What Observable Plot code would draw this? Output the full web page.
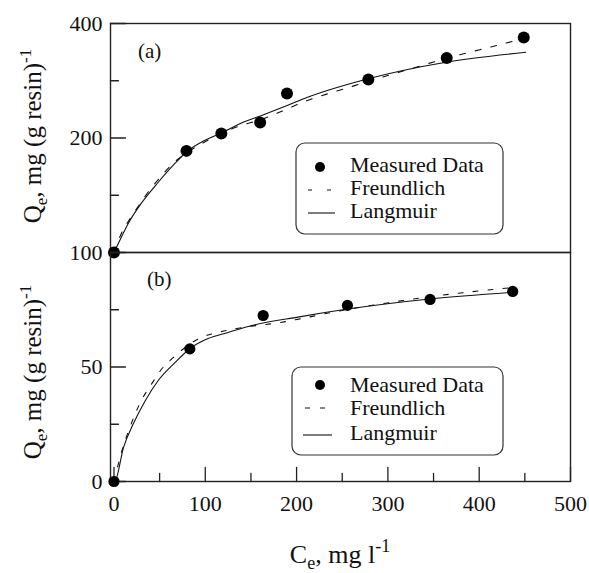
<!DOCTYPE html>
<html><head><meta charset="utf-8">
<script src="https://cdn.jsdelivr.net/npm/d3@7"></script>
<script src="https://cdn.jsdelivr.net/npm/@observablehq/plot@0.6"></script>
<style>
body{margin:0;background:#fff;}
#chart{position:relative;width:589px;height:573px;overflow:hidden;}
#chart svg{position:absolute;left:0;top:0;overflow:visible;}
#chart svg text, #chart svg tspan{font-family:"Liberation Serif","DejaVu Serif",serif !important;}
</style></head><body><div id="chart"></div>
<script>
// ---- Panel (a) data ----
const ceA = [0, 79.4, 117.6, 160.1, 189.5, 278.6, 364.4, 448.8];
const qeA = [100, 185, 205.5, 219.7, 261.8, 285, 324.8, 367.5];
const langA_x = [0, 4.9, 15.8, 30, 48.5, 67, 79, 99.8, 117, 139, 165.2, 190.3, 212, 276.4, 363.7, 451];
const langA_y = [100, 105.8, 119.4, 134.8, 153, 171.7, 183.5, 197.4, 205.9, 218.7, 231, 244, 256, 285.5, 316.5, 336];
const freA_x = [0, 8.2, 18, 28.9, 39.8, 51.8, 64.9, 79.1, 99.8, 128.1, 165.2, 214.3, 236.1, 254.6, 272.1, 323.3, 364.7, 413.8, 450.9];
const freA_y = [100, 112.4, 123, 134.8, 146.7, 158.7, 171.7, 182.4, 195.6, 210.9, 225.5, 252.2, 262.3, 270.4, 278.7, 303.3, 324.2, 347.6, 366];

// ---- Panel (b) data ----
const ceB = [0, 83.1, 163.4, 255.7, 346.2, 436.7];
const qeB = [0, 57.9, 72.5, 76.9, 79.5, 83];
const langB_x = [0, 1.6, 10.4, 21.3, 34.4, 48.5, 67, 83.4, 103, 125, 147, 203, 256, 346, 437];
const langB_y = [0, 0.4, 14.8, 25.3, 35.4, 44.1, 52, 58.1, 62.4, 65.1, 67.7, 71.9, 75.3, 79.7, 82.6];
const freB_x = [0, 10.4, 16.9, 23.4, 31.1, 40.9, 51.8, 64.9, 95.4, 114, 134, 181.6, 250, 356, 437];
const freB_y = [0, 15.7, 23.1, 29.7, 36.2, 42.4, 48.9, 54.1, 62.9, 65.1, 66.8, 69.4, 74.7, 81.2, 84.7];

// ---- Ticks / labels ----
const xMajor = [0, 100, 200, 300, 400, 500];
const xMinor = [50, 150, 250, 350, 450];
const yMajorA = [200, 400];
const yMinorA = [141.42, 282.84];
const yLabelsA = [200, 400];
const yMajorB = [0, 50, 100];
const yMinorB = [25, 75];
const yLabelsB = [0, 50, 100];
const legendItems = ["Measured Data", "Freundlich", "Langmuir"];
const panelTags = ["(a)", "(b)"];

const toPts = (xs, ys) => xs.map((x, i) => ({x, y: ys[i]}));
const W = 589, H = 573;
const FONT = "Liberation Serif, DejaVu Serif, serif";
const INK = "#111";
const xDomain = [-3.8, 500];
const tickShape = {draw(ctx, l) { ctx.moveTo(0, 0); ctx.lineTo(0, -l); }};
const common = {
  width: W, height: H, marginLeft: 110, marginRight: 19,
  style: {background: "transparent", fontFamily: FONT, fontSize: "22px", color: INK}
};
const curveStyle = {stroke: INK, strokeWidth: 1.1};
const tickStyle = {anchor: "start", shape: tickShape, stroke: "#222", strokeWidth: 1.3};

const plotA = Plot.plot({
  ...common, marginTop: 23, marginBottom: H - 252,
  x: {domain: xDomain, axis: null},
  y: {type: "log", domain: [100, 400], axis: null},
  marks: [
    Plot.frame({stroke: "#222", strokeWidth: 1.4}),
    Plot.vector(yMajorA, {x: xDomain[0], y: d => d, rotate: 90, length: 15, ...tickStyle}),
    Plot.vector(yMinorA, {x: xDomain[0], y: d => d, rotate: 90, length: 8, ...tickStyle}),
    Plot.text(yLabelsA, {x: xDomain[0], y: d => d, text: d => String(d), textAnchor: "end", dx: -8, fontSize: 22, fontFamily: FONT, fill: INK}),
    Plot.line(toPts(langA_x, langA_y), {x: "x", y: "y", ...curveStyle, curve: "monotone-x"}),
    Plot.line(toPts(freA_x, freA_y), {x: "x", y: "y", ...curveStyle, strokeDasharray: "6,10", curve: "monotone-x"}),
    Plot.dot(toPts(ceA, qeA), {x: "x", y: "y", r: 6, fill: "#000", stroke: "none"})
  ]
});

const plotB = Plot.plot({
  ...common, marginTop: 252, marginBottom: H - 481,
  x: {domain: xDomain, axis: null},
  y: {domain: [0, 100], axis: null},
  marks: [
    Plot.frame({stroke: "#222", strokeWidth: 1.4}),
    Plot.vector(yMajorB, {x: xDomain[0], y: d => d, rotate: 90, length: 15, ...tickStyle}),
    Plot.vector(yMinorB, {x: xDomain[0], y: d => d, rotate: 90, length: 8, ...tickStyle}),
    Plot.vector(xMajor, {x: d => d, y: 0, rotate: 0, length: 14, ...tickStyle}),
    Plot.vector(xMinor, {x: d => d, y: 0, rotate: 0, length: 8, ...tickStyle}),
    Plot.text(yLabelsB, {x: xDomain[0], y: d => d, text: d => String(d), textAnchor: "end", dx: -8, fontSize: 22, fontFamily: FONT, fill: INK}),
    Plot.text(xMajor, {x: d => d, y: 0, text: d => String(d), dy: 22, fontSize: 22, fontFamily: FONT, fill: INK}),
    Plot.line(toPts(langB_x, langB_y), {x: "x", y: "y", ...curveStyle, curve: "monotone-x"}),
    Plot.line(toPts(freB_x, freB_y), {x: "x", y: "y", ...curveStyle, strokeDasharray: "5,10", curve: "monotone-x"}),
    Plot.dot(toPts(ceB, qeB), {x: "x", y: "y", r: 5.6, fill: "#000", stroke: "none"})
  ]
});

const chart = document.getElementById("chart");
chart.appendChild(plotA);
chart.appendChild(plotB);

// ---- Annotations (titles, panel tags, legends) ----
const svg = d3.select(plotB);
const g = svg.append("g").attr("font-family", FONT).attr("fill", INK).attr("text-anchor", "start");

function yTitle(cx, cy) {
  const t = g.append("text").attr("transform", `translate(${cx},${cy}) rotate(-90)`)
    .attr("text-anchor", "middle").attr("font-size", 25);
  t.append("tspan").text("Q");
  t.append("tspan").attr("font-size", 17).attr("dy", 6).text("e");
  t.append("tspan").attr("dy", -6).text(", mg (g resin)");
  t.append("tspan").attr("font-size", 17).attr("dy", -10).text("-1");
}
yTitle(41, 136);
yTitle(41, 372);

const xt = g.append("text").attr("x", 340).attr("y", 563).attr("text-anchor", "middle").attr("font-size", 26);
xt.append("tspan").text("C");
xt.append("tspan").attr("font-size", 18).attr("dy", 6).text("e");
xt.append("tspan").attr("dy", -6).text(", mg l");
xt.append("tspan").attr("font-size", 18).attr("dy", -11).text("-1");

g.append("text").attr("x", 138).attr("y", 58).attr("font-size", 21).text(panelTags[0]);
g.append("text").attr("x", 147).attr("y", 286).attr("font-size", 21).text(panelTags[1]);

function legend(box, dotY, base, dashY, solidY, dash, dashX, solidX) {
  g.append("rect").attr("x", box[0]).attr("y", box[1]).attr("width", box[2]).attr("height", box[3])
    .attr("rx", 9).attr("fill", "none").attr("stroke", "#333").attr("stroke-width", 1.2);
  g.append("circle").attr("cx", 320).attr("cy", dotY).attr("r", 5).attr("fill", "#000");
  g.append("line").attr("x1", dashX[0]).attr("x2", dashX[1]).attr("y1", dashY).attr("y2", dashY)
    .attr("stroke", INK).attr("stroke-width", 1.1).attr("stroke-dasharray", dash);
  g.append("line").attr("x1", solidX[0]).attr("x2", solidX[1]).attr("y1", solidY).attr("y2", solidY)
    .attr("stroke", INK).attr("stroke-width", 1.1);
  legendItems.forEach((s, i) => {
    g.append("text").attr("x", 350).attr("y", base[i]).attr("font-size", 22).attr("text-anchor", "start").text(s);
  });
}
legend([296, 143, 207, 91], 167, [172, 195, 218], 190, 213, "4,15", [308, 332], [308, 335]);
legend([292, 367, 211, 88], 385, [392, 415, 440], 408, 435, "5,10", [305, 326], [303, 332]);
</script>
</body></html>
